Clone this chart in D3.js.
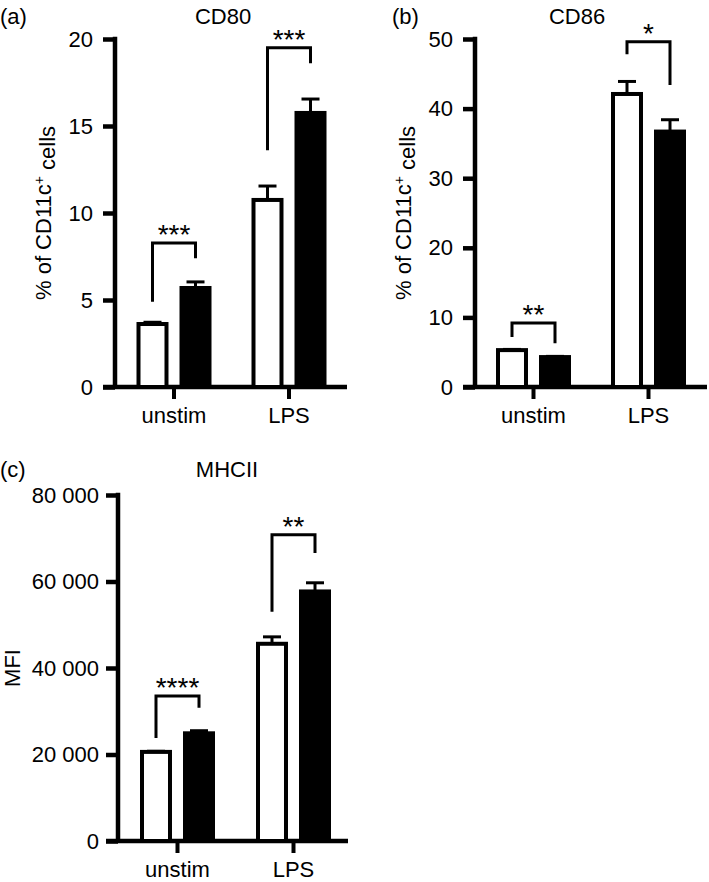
<!DOCTYPE html>
<html>
<head>
<meta charset="utf-8">
<script src="https://cdn.jsdelivr.net/npm/d3@7"></script>
<style>
  body { margin: 0; background: #fff; }
  svg { display: block; font-family: "Liberation Sans", Arial, Helvetica, sans-serif; }
</style>
</head>
<body>
<div id="chart"></div>
<script>
// groups on the x axis
const groups = ["unstim", "LPS"];

// CD80 (% of CD11c+ cells)
const cd80Open = [3.62, 10.75];
const cd80OpenErr = [0.1, 0.8];
const cd80Filled = [5.69, 15.75];
const cd80FilledErr = [0.35, 0.8];
const cd80Ticks = [0, 5, 10, 15, 20];
const cd80Stars = ["***", "***"];
// bracket: top, left leg end, right leg end
const cd80Brackets = [[8.28, 4.9, 7.4], [19.5, 13.6, 18.6]];

// CD86 (% of CD11c+ cells)
const cd86Open = [5.3, 42.1];
const cd86OpenErr = [0.1, 1.8];
const cd86Filled = [4.3, 36.7];
const cd86FilledErr = [0.1, 1.7];
const cd86Ticks = [0, 10, 20, 30, 40, 50];
const cd86Stars = ["**", "*"];
const cd86Brackets = [[9.2, 7.2, 6.3], [49.6, 47.8, 43.4]];

// MHCII (MFI)
const mhcOpen = [20600, 45600];
const mhcOpenErr = [150, 1600];
const mhcFilled = [24900, 57700];
const mhcFilledErr = [600, 2000];
const mhcTicks = [0, 20000, 40000, 60000, 80000];
const mhcStars = ["****", "**"];
const mhcBrackets = [[33500, 23800, 30800], [70800, 53000, 66600]];

const W = 709, H = 882;
const FS = 22;
const svg = d3.select("#chart").append("svg")
    .attr("width", W)
    .attr("height", H);

const spaced = d3.formatLocale({ decimal: ".", thousands: " ", grouping: [3], currency: ["", ""] }).format(",d");

function drawPanel(p) {
    const g = svg.append("g");
    const y = d3.scaleLinear().domain(p.domain).range([p.y0, p.y1]);
    const x = d3.scaleBand().domain(groups).range(p.xRange);
    const sub = d3.scaleBand().domain(["open", "filled"]).range([-37.5, 37.5]).paddingInner(0.256);
    const bw = sub.bandwidth();

    // y axis
    const yAxis = g.append("g")
        .attr("transform", `translate(${p.axisX},0)`)
        .call(d3.axisLeft(y).tickValues(p.ticks).tickSize(12).tickSizeOuter(0).tickPadding(p.pad || 9)
            .tickFormat(p.fmt || d3.format("d")));
    yAxis.selectAll("path, line").attr("stroke", "#000").attr("stroke-width", 4.5);
    yAxis.select(".domain").attr("d", `M0,${p.y0 + 2}V${p.y1 - 2.25}`);
    yAxis.selectAll("text").attr("font-size", FS).attr("fill", "#000")
        .attr("font-family", "Liberation Sans, Arial, sans-serif");

    // x axis line and ticks
    g.append("line")
        .attr("x1", p.axisX - 12).attr("x2", p.xEnd)
        .attr("y1", p.y0).attr("y2", p.y0)
        .attr("stroke", "#000").attr("stroke-width", 4.5);
    groups.forEach(k => {
        const cx = x(k) + x.bandwidth() / 2;
        g.append("line")
            .attr("x1", cx).attr("x2", cx)
            .attr("y1", p.y0).attr("y2", p.y0 + 12)
            .attr("stroke", "#000").attr("stroke-width", 4);
        g.append("text")
            .attr("x", cx).attr("y", p.y0 + 36)
            .attr("text-anchor", "middle")
            .attr("font-size", FS)
            .text(k);
    });

    // bars with error bars
    groups.forEach((k, i) => {
        const cx = x(k) + x.bandwidth() / 2;
        [["open", p.open, p.openErr, "#fff"], ["filled", p.filled, p.filledErr, "#000"]].forEach(s => {
            const bx = cx + sub(s[0]);
            const v = s[1][i], e = s[2][i];
            const mid = bx + bw / 2;
            g.append("line")
                .attr("x1", mid).attr("x2", mid)
                .attr("y1", y(v)).attr("y2", y(v + e))
                .attr("stroke", "#000").attr("stroke-width", 3);
            g.append("line")
                .attr("x1", mid - 9).attr("x2", mid + 9)
                .attr("y1", y(v + e)).attr("y2", y(v + e))
                .attr("stroke", "#000").attr("stroke-width", 3);
            g.append("rect")
                .attr("x", bx + 2).attr("width", bw - 4)
                .attr("y", y(v)).attr("height", y(0) - y(v))
                .attr("fill", s[3]).attr("stroke", "#000").attr("stroke-width", 4);
        });

        // significance bracket
        const b = p.brackets[i];
        const xl = cx + sub("open") + bw / 2, xr = cx + sub("filled") + bw / 2;
        g.append("path")
            .attr("d", `M${xl},${y(b[1])}V${y(b[0])}H${xr}V${y(b[2])}`)
            .attr("fill", "none").attr("stroke", "#000").attr("stroke-width", 3);
        g.append("text")
            .attr("x", cx).attr("y", y(b[0]) + 1)
            .attr("text-anchor", "middle")
            .attr("font-size", 28)
            .text(p.stars[i]);
    });

    // titles and labels
    g.append("text").attr("x", p.titleX).attr("y", p.titleY)
        .attr("text-anchor", "middle").attr("font-size", FS).text(p.title);
    g.append("text").attr("x", p.tagX).attr("y", p.titleY)
        .attr("font-size", FS).text(p.tag);
    const yl = g.append("text")
        .attr("transform", `translate(${p.ylabX},${(p.y0 + p.y1) / 2}) rotate(-90)`)
        .attr("text-anchor", "middle").attr("dy", "0.35em")
        .attr("font-size", FS);
    if (p.ylab === "cd11c") {
        yl.append("tspan").text("% of CD11c");
        yl.append("tspan").attr("dy", "-0.5em").attr("font-size", 14).text("+");
        yl.append("tspan").attr("dy", "0.5em").text(" cells");
    } else {
        yl.text(p.ylab);
    }
}

drawPanel({
    tag: "(a)", tagX: 0, title: "CD80", titleX: 223, titleY: 24,
    domain: [0, 20], y0: 387, y1: 39, ticks: cd80Ticks,
    axisX: 115, xRange: [116.5, 346.5], xEnd: 347,
    open: cd80Open, openErr: cd80OpenErr, filled: cd80Filled, filledErr: cd80FilledErr,
    brackets: cd80Brackets, stars: cd80Stars, ylab: "cd11c", ylabX: 43, pad: 10
});

drawPanel({
    tag: "(b)", tagX: 392, title: "CD86", titleX: 577, titleY: 24,
    domain: [0, 50], y0: 387, y1: 39, ticks: cd86Ticks,
    axisX: 475, xRange: [476, 706], xEnd: 707,
    open: cd86Open, openErr: cd86OpenErr, filled: cd86Filled, filledErr: cd86FilledErr,
    brackets: cd86Brackets, stars: cd86Stars, ylab: "cd11c", ylabX: 403, pad: 10
});

drawPanel({
    tag: "(c)", tagX: 0, title: "MHCII", titleX: 227, titleY: 477,
    domain: [0, 80000], y0: 841, y1: 495, ticks: mhcTicks, fmt: spaced,
    axisX: 118, xRange: [119.5, 351.5], xEnd: 348,
    open: mhcOpen, openErr: mhcOpenErr, filled: mhcFilled, filledErr: mhcFilledErr,
    brackets: mhcBrackets, stars: mhcStars, ylab: "MFI", ylabX: 12, pad: 7
});
</script>
</body>
</html>
